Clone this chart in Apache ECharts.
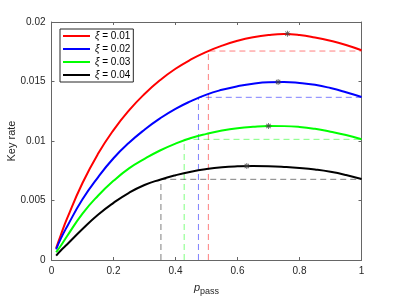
<!DOCTYPE html>
<html>
<head>
<meta charset="utf-8">
<script src="https://cdn.jsdelivr.net/npm/echarts@6/dist/echarts.min.js"></script>
<style>html,body{margin:0;padding:0;background:#fff}#c{width:399px;height:299px}</style>
</head>
<body>
<div id="c"></div>
<script>
const pVals = [0.015,0.03,0.05,0.1,0.15,0.2,0.25,0.3,0.35,0.4,0.45,0.5,0.55,0.6,0.65,0.7,0.75,0.8,0.85,0.9,0.95,1.0];
const red   = [0.0010,0.0021,0.00347,0.00647,0.00892,0.01092,0.01257,0.01395,0.01511,0.01607,0.01685,0.01749,0.01801,0.01842,0.01872,0.01891,0.01899,0.01891,0.0187,0.01842,0.01807,0.01763];
const blue  = [0.0009,0.0018,0.0028,0.0051,0.00695,0.00855,0.00985,0.01095,0.0119,0.0127,0.01335,0.0139,0.0143,0.0146,0.01482,0.01494,0.01496,0.01488,0.01472,0.01445,0.0141,0.0137];
const green = [0.00065,0.0012,0.0020,0.0039,0.0054,0.00665,0.0077,0.0085,0.0092,0.00978,0.01025,0.0106,0.01088,0.01108,0.0112,0.01126,0.01125,0.01118,0.01102,0.01078,0.0105,0.01015];
const black = [0.00036,0.0008,0.0013,0.0026,0.0038,0.0048,0.00565,0.0063,0.00675,0.00712,0.00742,0.00764,0.00779,0.00787,0.0079,0.00788,0.00782,0.00773,0.0076,0.00741,0.00714,0.0068];
const names = ['0.01','0.02','0.03','0.04'];
const peakP = [0.761,0.731,0.70,0.63];
const peakV = [0.01902,0.01496,0.01126,0.0079];
const cutP = [0.506,0.474,0.428,0.353];
const cutV = [0.01756,0.01367,0.01014,0.00678];
const xTicks = [0,0.2,0.4,0.6,0.8,1];
const yTicks = [0,0.005,0.01,0.015,0.02];

const colors = ['#ff0000','#0000ff','#00ff00','#000000'];
const dashColors = ['rgba(255,0,0,0.5)','rgba(0,0,255,0.5)','rgba(0,255,0,0.5)','rgba(0,0,0,0.5)'];
const curves = [red,blue,green,black];
const FONT = "'Liberation Sans', Arial, Helvetica, sans-serif";
const asterisk = 'path://M8.5,0L11.5,0L11.5,20L8.5,20Z M0,8.5L20,8.5L20,11.5L0,11.5Z M1.8,3.9L3.9,1.8L18.2,16.1L16.1,18.2Z M16.1,1.8L18.2,3.9L3.9,18.2L1.8,16.1Z';

const series = [];
curves.forEach((c,i)=>{
  series.push({
    type:'line', xAxisIndex:0, yAxisIndex:0, silent:true,
    data:[[cutP[i],0],[cutP[i],cutV[i]],[1,cutV[i]]],
    symbol:'none', lineStyle:{color:dashColors[i],width:1,type:[6,4]}, z:1
  });
});
curves.forEach((c,i)=>{
  series.push({
    name:names[i], type:'line', xAxisIndex:0, yAxisIndex:0, smooth:true,
    data:pVals.map((p,k)=>[p,c[k]]), symbol:'none', showSymbol:false,
    lineStyle:{color:colors[i],width:2}, itemStyle:{color:colors[i]}, z:3
  });
});
series.push({
  type:'scatter', data:peakP.map((p,k)=>[p,peakV[k]]), symbol:asterisk, symbolSize:6,
  itemStyle:{color:'#444444'}, z:5
});

const chart = echarts.init(document.getElementById('c'), null, {renderer:'canvas'});
const axisCol = '#262626';
const frameCol = '#666666';
chart.setOption({
  animation:false,
  backgroundColor:'#ffffff',
  grid:{left:51.5,right:37.5,top:22,bottom:39,show:false,containLabel:false,outerBoundsMode:'none'},
  legend:{
    data:names, orient:'vertical', left:60, top:29,
    backgroundColor:'#ffffff', borderColor:axisCol, borderWidth:1,
    padding:[1,3,1,3], itemWidth:27, itemHeight:2, itemGap:1, icon:'rect',
    textStyle:{fontFamily:FONT,fontSize:10,color:'#000',lineHeight:12,
      rich:{i:{fontFamily:FONT,fontSize:10,fontStyle:'italic',color:'#000'}}},
    formatter:n=>'{i|ξ} = '+n
  },
  xAxis:[{
    type:'value', min:0, max:1, interval:0.2, position:'bottom',
    name:'{i|p}{s|pass}', nameLocation:'middle', nameGap:20, nameMoveOverlap:false,
    nameTextStyle:{rich:{i:{fontFamily:FONT,fontSize:11,fontStyle:'italic',color:axisCol},
      s:{fontFamily:FONT,fontSize:9,color:axisCol,verticalAlign:'bottom',padding:[7,0,0,0]}}},
    axisLine:{show:true,lineStyle:{color:frameCol,width:1}},
    axisTick:{show:true,inside:true,length:3,lineStyle:{color:frameCol}},
    axisLabel:{fontFamily:FONT,fontSize:10,color:axisCol,margin:6},
    splitLine:{show:false}
  },{
    type:'value', min:0, max:1, interval:0.2, position:'top',
    axisLine:{show:true,onZero:false,lineStyle:{color:frameCol,width:1}},
    axisTick:{show:true,inside:true,length:3,lineStyle:{color:frameCol}},
    axisLabel:{show:false}, splitLine:{show:false}
  }],
  yAxis:[{
    type:'value', min:0, max:0.02, interval:0.005, position:'left',
    name:'Key rate', nameLocation:'middle', nameGap:34, nameMoveOverlap:false,
    nameTextStyle:{fontFamily:FONT,fontSize:11,color:axisCol},
    axisLine:{show:true,lineStyle:{color:frameCol,width:1}},
    axisTick:{show:true,inside:true,length:3,lineStyle:{color:frameCol}},
    axisLabel:{fontFamily:FONT,fontSize:10,color:axisCol,margin:6,
      formatter:v=>String(Math.round(v*1000)/1000)},
    splitLine:{show:false}
  },{
    type:'value', min:0, max:0.02, interval:0.005, position:'right',
    axisLine:{show:true,onZero:false,lineStyle:{color:frameCol,width:1}},
    axisTick:{show:true,inside:true,length:3,lineStyle:{color:frameCol}},
    axisLabel:{show:false}, splitLine:{show:false}
  }],
  series:series
});
</script>
</body>
</html>
